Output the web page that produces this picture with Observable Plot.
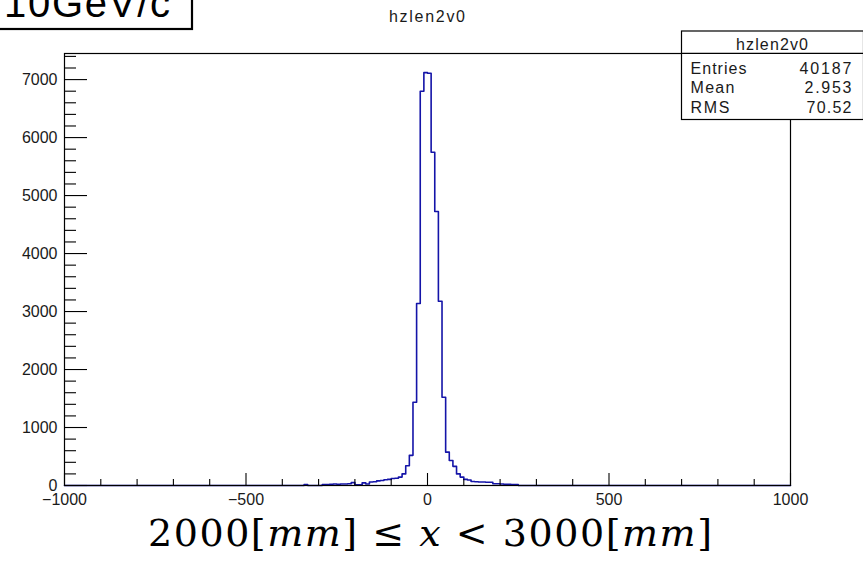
<!DOCTYPE html>
<html><head><meta charset="utf-8">
<script src="https://cdn.jsdelivr.net/npm/d3@7"></script>
<script src="https://cdn.jsdelivr.net/npm/@observablehq/plot@0.6"></script>
<style>
html,body{margin:0;padding:0;background:#fff;}
#wrap{position:relative;width:863px;height:562px;overflow:hidden;}
#wrap svg{position:absolute;left:0;top:0;}
</style></head><body><div id="wrap"></div>
<script>
// ---- data (histogram hzlen2v0, 10-unit bins) ----
const binStart = -350;
const binWidth = 10;
const counts = [
  0, 15, 0, 0, 0, 0, 15, 15, 20, 25,
  20, 25, 25, 30, 50, 10, 10, 45, 25, 60,
  65, 80, 85, 100, 105, 120, 125, 145, 200, 340,
  520, 1436, 3138, 6798, 7120, 7110, 5747, 4724, 3178, 1522,
  575, 430, 330, 200, 145, 105, 95, 70, 65, 60,
  60, 55, 55, 30, 30, 25, 20, 20, 18, 15
];
const xDomain = [-1000, 1000];
const yTop = 7450;
const xMajor = [-1000, -500, 0, 500, 1000];
const yMajor = [0, 1000, 2000, 3000, 4000, 5000, 6000, 7000];
const title = "hzlen2v0";
const statsLabels = ["Entries", "Mean", "RMS"];
const statsValues = ["40187", "2.953", "70.52"];
const boxLabel = "10GeV/c";

// ---- derived ----
const xMinor = d3.range(-900, 1000, 100).filter(v => !xMajor.includes(v));
const yMinor = d3.range(200, yTop, 200).filter(v => v % 1000 !== 0);
const pts = [{x: xDomain[0], y: 0}];
counts.forEach((c, i) => pts.push({x: binStart + i * binWidth, y: c}));
pts.push({x: binStart + counts.length * binWidth, y: 0});
pts.push({x: xDomain[1], y: 0});

const W = 863, H = 562, mL = 64, mR = 73, mT = 53, mB = 77;
const fw = W - mL - mR, fh = H - mT - mB;
const fmt = d => d < 0 ? "\u2212" + (-d) : String(d);

const chart = Plot.plot({
  width: W, height: H,
  marginLeft: mL, marginRight: mR, marginTop: mT, marginBottom: mB,
  style: {fontFamily: "'Liberation Sans', Arial, sans-serif", fontSize: "16px", color: "#1a1a1a", background: "white"},
  x: {domain: xDomain},
  y: {domain: [0, yTop]},
  marks: [
    Plot.line(pts, {x: "x", y: "y", curve: "step-after", stroke: "#1414a8", strokeWidth: 1.6}),
    Plot.frame({stroke: "black", strokeWidth: 1.2}),
    Plot.ruleY(yMajor, {stroke: "black", strokeWidth: 1.1, insetRight: fw - 23}),
    Plot.ruleY(yMinor, {stroke: "black", strokeWidth: 1.1, insetRight: fw - 12}),
    Plot.ruleX(xMajor, {stroke: "black", strokeWidth: 1.1, insetTop: fh - 12}),
    Plot.ruleX(xMinor, {stroke: "black", strokeWidth: 1.1, insetTop: fh - 6}),
    Plot.axisY(yMajor, {tickSize: 0, tickPadding: 7, tickFormat: fmt, fontSize: 16, label: null}),
    Plot.axisX(xMajor, {tickSize: 0, tickPadding: 8, tickFormat: fmt, fontSize: 16, label: null})
  ]
});
document.getElementById("wrap").appendChild(chart);

// ---- overlay annotations (title, stats box, labels) ----
const ns = "http://www.w3.org/2000/svg";
const ov = d3.select("#wrap").append("svg")
  .attr("xmlns", ns).attr("width", W).attr("height", H)
  .style("pointer-events", "none")
  .style("font-family", "'Liberation Sans', Arial, sans-serif");

// top-left label box
ov.append("rect").attr("x", -3).attr("y", -3).attr("width", 195).attr("height", 32)
  .attr("fill", "white").attr("stroke", "black").attr("stroke-width", 2.2);
ov.append("text").attr("x", 4).attr("y", 17).attr("font-size", 40)
  .attr("textLength", 166).attr("lengthAdjust", "spacing").attr("fill", "black").text(boxLabel);

// title
ov.append("text").attr("x", 427).attr("y", 22).attr("text-anchor", "middle")
  .attr("font-size", 16).attr("textLength", 76).attr("lengthAdjust", "spacing").attr("fill", "#1a1a1a").text(title);

// stats box
ov.append("rect").attr("x", 681.5).attr("y", 31).attr("width", 182).attr("height", 88.5)
  .attr("fill", "white").attr("stroke", "black").attr("stroke-width", 1.2);
ov.append("line").attr("x1", 681.5).attr("x2", 863).attr("y1", 53.3).attr("y2", 53.3)
  .attr("stroke", "black").attr("stroke-width", 1.2);
ov.append("text").attr("x", 772).attr("y", 50).attr("text-anchor", "middle")
  .attr("font-size", 16).attr("textLength", 72).attr("lengthAdjust", "spacing").attr("fill", "#1a1a1a").text(title);
const rowY = [73.5, 93, 113];
const labW = [56, 44, 39];
const valW = [52, 47, 45];
statsLabels.forEach((l, i) => {
  ov.append("text").attr("x", 690.5).attr("y", rowY[i]).attr("font-size", 16)
    .attr("textLength", labW[i]).attr("lengthAdjust", "spacing").attr("fill", "#1a1a1a").text(l);
  ov.append("text").attr("x", 851.5).attr("y", rowY[i]).attr("text-anchor", "end").attr("font-size", 16)
    .attr("fill", "#1a1a1a").attr("textLength", valW[i]).attr("lengthAdjust", "spacing").text(statsValues[i]);
});

// caption
const cap = ov.append("text").attr("x", 430).attr("y", 546).attr("text-anchor", "middle")
  .attr("font-size", 38).attr("font-family", "'DejaVu Serif', 'Liberation Serif', serif")
  .attr("textLength", 564).attr("lengthAdjust", "spacing").attr("fill", "black");
cap.append("tspan").text("2000[");
cap.append("tspan").attr("font-style", "italic").text("mm");
cap.append("tspan").text("] \u2264 ");
cap.append("tspan").attr("font-style", "italic").text("x");
cap.append("tspan").text(" < 3000[");
cap.append("tspan").attr("font-style", "italic").text("mm");
cap.append("tspan").text("]");
</script>
</body></html>
